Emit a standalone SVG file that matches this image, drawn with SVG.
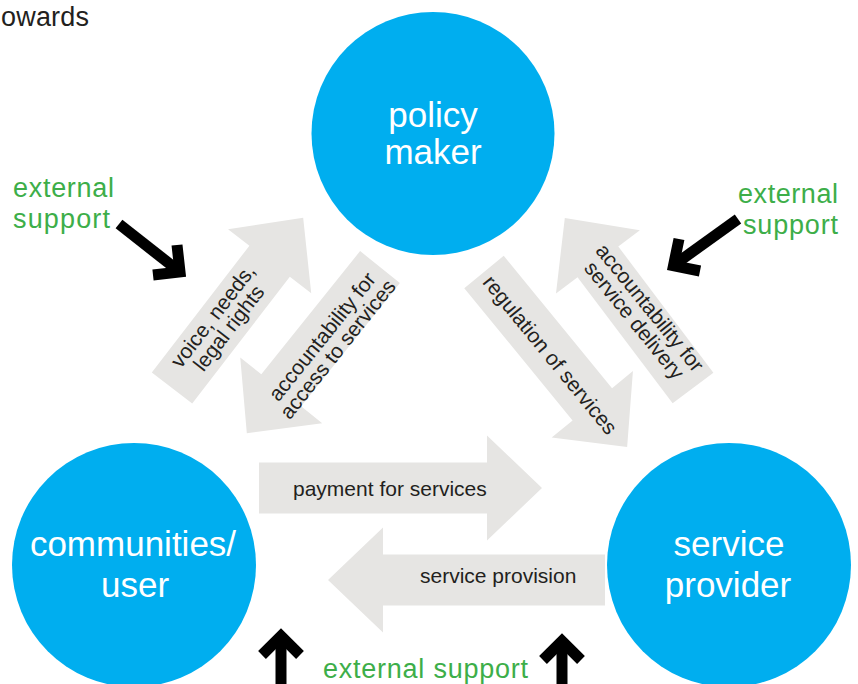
<svg xmlns="http://www.w3.org/2000/svg" width="858" height="684" viewBox="0 0 858 684">
<style>
.node{fill:#00AEEF}
.big{font-family:"Liberation Sans",Arial,sans-serif;font-size:35px;fill:#fff;text-anchor:middle}
.flow{fill:#E6E5E3}
.lbl{font-family:"Liberation Sans",Arial,sans-serif;font-size:21px;fill:#231F20}
.mid{text-anchor:middle}
.ext{font-family:"Liberation Sans",Arial,sans-serif;font-size:27px;fill:#3DAE49}
.blk{fill:none;stroke:#000;stroke-width:11;stroke-linejoin:miter;stroke-miterlimit:10}
</style>
<rect width="858" height="684" fill="#fff"/>
<text x="1" y="26" font-family="Liberation Sans, Arial, sans-serif" font-size="27" fill="#231F20" textLength="88">owards</text>

<g id="connectors">
  <g id="voice">
    <polygon class="flow" transform="translate(172,388) rotate(-52.4)" points="0,-25.5 160,-25.5 160,-52.5 215,0 160,52.5 160,25.5 0,25.5"/>
    <g transform="translate(221,322) rotate(-52.4)">
      <text class="lbl mid" x="0" y="-3">voice, needs,</text>
      <text class="lbl mid" x="0" y="17">legal rights</text>
    </g>
  </g>
  <g id="access">
    <polygon class="flow" transform="translate(380,267) rotate(128.7)" points="0,-25.5 158,-25.5 158,-52.5 213,0 158,52.5 158,25.5 0,25.5"/>
    <g transform="translate(330,343) rotate(-51.3)">
      <text class="lbl mid" x="0" y="-3">accountability for</text>
      <text class="lbl mid" x="0" y="17">access to services</text>
    </g>
  </g>
  <g id="regulation">
    <polygon class="flow" transform="translate(484,272) rotate(50.7)" points="0,-25.5 171,-25.5 171,-52.5 226,0 171,52.5 171,25.5 0,25.5"/>
    <g transform="translate(550,355) rotate(50.7)">
      <text class="lbl mid" x="0" y="7">regulation of services</text>
    </g>
  </g>
  <g id="delivery">
    <polygon class="flow" transform="translate(693,388) rotate(-127)" points="0,-25.5 158,-25.5 158,-52.5 213,0 158,52.5 158,25.5 0,25.5"/>
    <g transform="translate(642,314) rotate(51)">
      <text class="lbl mid" x="0" y="-3">accountability for</text>
      <text class="lbl mid" x="0" y="17">service delivery</text>
    </g>
  </g>
  <g id="payment">
    <polygon class="flow" transform="translate(259,488)" points="0,-25.5 228,-25.5 228,-52.5 283,0 228,52.5 228,25.5 0,25.5"/>
    <text class="lbl" x="293" y="496">payment for services</text>
  </g>
  <g id="provision">
    <polygon class="flow" transform="translate(605,580) rotate(180)" points="0,-25.5 222,-25.5 222,-52.5 277,0 222,52.5 222,25.5 0,25.5"/>
    <text class="lbl" x="420" y="583">service provision</text>
  </g>
  <g id="support-arrows">
    <path class="blk" d="M119,224 L180,272"/>
    <path class="blk" d="M153,275 L180,272 L177,245"/>
    <path class="blk" d="M738,219 L674,265"/>
    <path class="blk" d="M700,271 L673.5,265.6 L679,239"/>
    <path class="blk" d="M281,684 L281,637"/>
    <path class="blk" d="M262,655 L281,636 L300,655"/>
    <path class="blk" d="M562,684 L562,642"/>
    <path class="blk" d="M543,660 L562,641 L581,660"/>
  </g>
</g>

<g id="policy-maker">
  <circle class="node" cx="433" cy="133.5" r="121.5"/>
  <text class="big" x="433" y="127">policy</text>
  <text class="big" x="433" y="164">maker</text>
</g>
<g id="communities-user">
  <circle class="node" cx="134" cy="565" r="122"/>
  <text class="big" x="133" y="556">communities/</text>
  <text class="big" x="135" y="597">user</text>
</g>
<g id="service-provider">
  <circle class="node" cx="729" cy="565" r="122"/>
  <text class="big" x="729" y="556">service</text>
  <text class="big" x="728" y="597">provider</text>
</g>

<g id="external-support-left">
  <text class="ext" x="13" y="197" textLength="101">external</text>
  <text class="ext" x="13" y="228" textLength="97">support</text>
</g>
<g id="external-support-right">
  <text class="ext" x="738" y="203" textLength="100">external</text>
  <text class="ext" x="743" y="234" textLength="95">support</text>
</g>
<g id="external-support-bottom">
  <text class="ext" x="323" y="678" textLength="205">external support</text>
</g>
</svg>
